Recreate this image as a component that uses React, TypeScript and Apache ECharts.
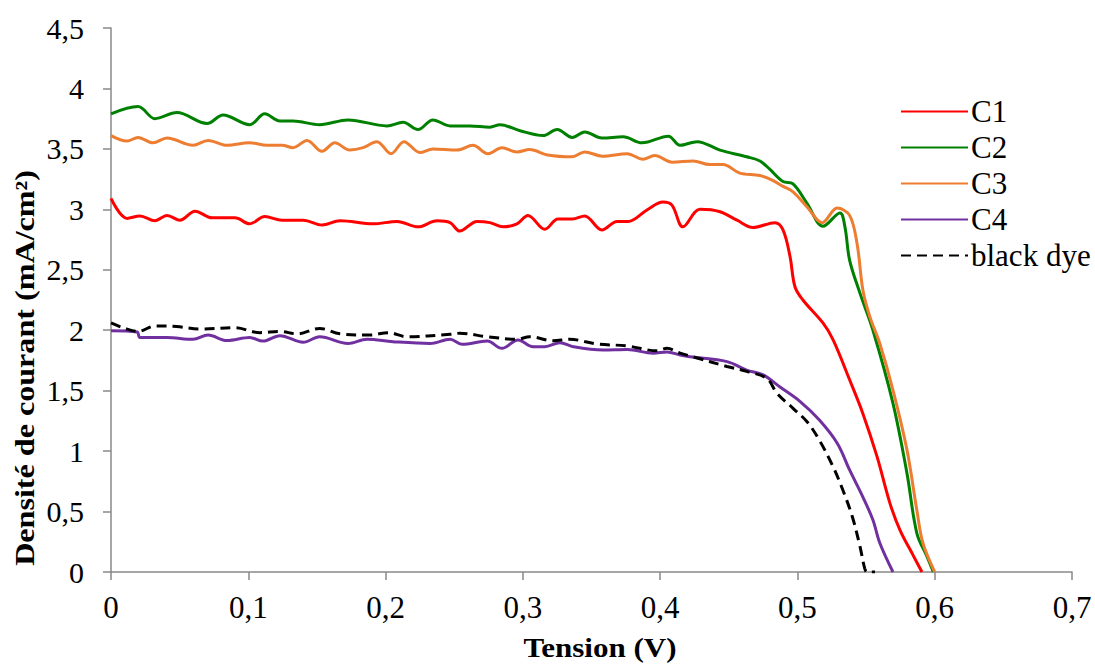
import React, { useEffect, useRef } from "react";
import * as echarts from "echarts";

// Tension (V), Densité de courant (mA/cm²)
const seriesNames = ["C1", "C2", "C3", "C4", "black dye"];
const seriesColors = ["#FF0000", "#008000", "#ED7D31", "#7030A0", "#000000"];

const c1: number[][] = [
  [0, 3.09], [0.0117, 2.925], [0.0211, 2.945], [0.032, 2.905], [0.0408, 2.95], [0.0503, 2.91],
  [0.0612, 2.985], [0.0736, 2.93], [0.0903, 2.93], [0.101, 2.88], [0.112, 2.94], [0.1246, 2.91],
  [0.14, 2.91], [0.1537, 2.87], [0.1668, 2.905], [0.191, 2.88], [0.2083, 2.9], [0.2236, 2.855],
  [0.2375, 2.905], [0.247, 2.89], [0.254, 2.82], [0.2666, 2.9], [0.276, 2.89], [0.2855, 2.855],
  [0.2957, 2.88], [0.3037, 2.95], [0.316, 2.835], [0.3256, 2.92], [0.336, 2.92], [0.345, 2.945],
  [0.3576, 2.83], [0.3686, 2.9], [0.3766, 2.9], [0.3904, 2.995], [0.402, 3.06], [0.4086, 3.035],
  [0.4166, 2.855], [0.429, 3.0], [0.4436, 2.98], [0.456, 2.91], [0.4676, 2.85], [0.4836, 2.89],
  [0.4895, 2.83], [0.4946, 2.61], [0.4982, 2.36], [0.504, 2.25], [0.5186, 2.06], [0.526, 1.92],
  [0.538, 1.59], [0.5477, 1.31], [0.558, 0.954], [0.5674, 0.568], [0.5747, 0.347], [0.5842, 0.14],
  [0.5907, 0],
];

const c2: number[][] = [
  [0, 3.79], [0.0197, 3.85], [0.032, 3.75], [0.048, 3.8], [0.07, 3.71], [0.0816, 3.78],
  [0.101, 3.7], [0.112, 3.79], [0.123, 3.73], [0.1326, 3.73], [0.152, 3.7], [0.1726, 3.74],
  [0.201, 3.69], [0.2127, 3.72], [0.2236, 3.66], [0.2345, 3.74], [0.247, 3.69], [0.2615, 3.69],
  [0.276, 3.68], [0.2833, 3.7], [0.298, 3.65], [0.3147, 3.61], [0.325, 3.66], [0.336, 3.595],
  [0.345, 3.64], [0.3576, 3.59], [0.373, 3.6], [0.3868, 3.55], [0.406, 3.605], [0.4145, 3.53],
  [0.427, 3.56], [0.4436, 3.49], [0.463, 3.435], [0.4727, 3.4], [0.48, 3.33], [0.4895, 3.23],
  [0.4968, 3.21], [0.507, 3.05], [0.5186, 2.86], [0.531, 2.97], [0.5346, 2.855], [0.538, 2.58],
  [0.5456, 2.305], [0.555, 2.0], [0.5696, 1.395], [0.5798, 0.816], [0.587, 0.32], [0.5944, 0.127],
  [0.599, 0],
];

const c3: number[][] = [
  [0, 3.61], [0.0117, 3.565], [0.0197, 3.595], [0.0306, 3.55], [0.0408, 3.59], [0.0597, 3.53],
  [0.0707, 3.57], [0.0845, 3.53], [0.101, 3.55], [0.1136, 3.53], [0.1246, 3.53], [0.1326, 3.51],
  [0.1428, 3.57], [0.1537, 3.48], [0.163, 3.55], [0.174, 3.49], [0.1836, 3.51], [0.1937, 3.56],
  [0.204, 3.46], [0.2134, 3.56], [0.225, 3.47], [0.2345, 3.5], [0.252, 3.49], [0.2637, 3.53],
  [0.2746, 3.46], [0.2848, 3.51], [0.2957, 3.475], [0.305, 3.495], [0.318, 3.45], [0.336, 3.435],
  [0.345, 3.475], [0.358, 3.44], [0.376, 3.46], [0.3875, 3.415], [0.396, 3.445], [0.409, 3.39],
  [0.424, 3.4], [0.436, 3.37], [0.4458, 3.37], [0.458, 3.3], [0.4727, 3.28], [0.482, 3.24],
  [0.4895, 3.19], [0.4968, 3.145], [0.507, 3.02], [0.518, 2.89], [0.529, 3.01], [0.538, 2.95],
  [0.5434, 2.72], [0.5477, 2.33], [0.5528, 2.11], [0.56, 1.89], [0.5696, 1.505], [0.5798, 1.01],
  [0.587, 0.51], [0.5914, 0.24], [0.6, 0],
];

const c4: number[][] = [
  [0, 1.996], [0.019, 1.985], [0.0211, 1.94], [0.0408, 1.94], [0.0597, 1.925], [0.0707, 1.96],
  [0.0845, 1.915], [0.101, 1.94], [0.1107, 1.91], [0.123, 1.955], [0.14, 1.9], [0.152, 1.946],
  [0.1726, 1.89], [0.1865, 1.925], [0.2054, 1.905], [0.2324, 1.89], [0.247, 1.925], [0.2557, 1.883],
  [0.274, 1.91], [0.2848, 1.85], [0.2965, 1.92], [0.3074, 1.864], [0.316, 1.864], [0.327, 1.897],
  [0.3365, 1.864], [0.3584, 1.836], [0.376, 1.84], [0.395, 1.81], [0.405, 1.82], [0.4145, 1.795],
  [0.4217, 1.78], [0.4487, 1.74], [0.463, 1.67], [0.475, 1.63], [0.4873, 1.53], [0.502, 1.41],
  [0.516, 1.257], [0.529, 1.065], [0.538, 0.844], [0.5477, 0.62], [0.555, 0.43], [0.56, 0.24],
  [0.5696, 0],
];

const blackDye: number[][] = [
  [0, 2.06], [0.0102, 2.015], [0.0197, 1.99], [0.032, 2.035], [0.048, 2.03], [0.0648, 2.01],
  [0.0903, 2.02], [0.1085, 1.98], [0.123, 1.99], [0.1355, 1.97], [0.152, 2.015], [0.1668, 1.97],
  [0.1887, 1.96], [0.2018, 1.98], [0.2156, 1.946], [0.247, 1.966], [0.254, 1.975], [0.274, 1.946],
  [0.2957, 1.925], [0.305, 1.946], [0.322, 1.913], [0.3343, 1.925], [0.354, 1.886], [0.376, 1.87],
  [0.3977, 1.83], [0.405, 1.85], [0.4145, 1.81], [0.424, 1.78], [0.4487, 1.7], [0.463, 1.66],
  [0.4778, 1.6], [0.485, 1.48], [0.4968, 1.354], [0.507, 1.243], [0.516, 1.09], [0.526, 0.87],
  [0.533, 0.68], [0.54, 0.457], [0.5456, 0.21], [0.549, 0.03], [0.5507, 0], [0.5565, 0],
];

const allData = [c1, c2, c3, c4, blackDye];

const xTitle = "Tension (V)";
const yTitle = "Densité de courant (mA/cm²)";

const FONT = "'Liberation Serif', 'Times New Roman', serif";

const fmt = (v: number) => String(Math.round(v * 10) / 10).replace(".", ",");

export default function App() {
  const ref = useRef<HTMLDivElement>(null);
  useEffect(() => {
    if (!ref.current) return;
    const chart = echarts.init(ref.current, null, { renderer: "svg" });
    chart.setOption({
      animation: false,
      backgroundColor: "#FFFFFF",
      textStyle: { fontFamily: FONT },
      grid: { left: 111, right: 23, top: 28, bottom: 92, containLabel: false },
      xAxis: {
        type: "value",
        min: 0,
        max: 0.7,
        interval: 0.1,
        splitLine: { show: false },
        axisLine: { show: true, lineStyle: { color: "#898989", width: 1.5 } },
        axisTick: { show: true, inside: false, length: 8, lineStyle: { color: "#898989", width: 1.5 } },
        axisLabel: { formatter: fmt, fontSize: 31, color: "#000", fontFamily: FONT, margin: 20 },
      },
      yAxis: {
        type: "value",
        min: 0,
        max: 4.5,
        interval: 0.5,
        splitLine: { show: false },
        axisLine: { show: true, lineStyle: { color: "#898989", width: 1.5 } },
        axisTick: { show: true, inside: false, length: 8, lineStyle: { color: "#898989", width: 1.5 } },
        axisLabel: { formatter: fmt, fontSize: 30, color: "#000", fontFamily: FONT, margin: 27 },
      },
      legend: {
        show: true,
        orient: "vertical",
        left: 895,
        top: 91,
        itemWidth: 67,
        itemHeight: 14,
        itemGap: 5,
        itemStyle: { opacity: 0 },
        textStyle: { fontSize: 31, color: "#000", fontFamily: FONT, padding: [0, 0, 0, -2] },
        data: seriesNames,
      },
      graphic: [
        {
          type: "text",
          x: 600,
          y: 648,
          scaleX: 1.15,
          style: {
            text: xTitle,
            font: `bold 27px ${FONT}`,
            fill: "#000",
            textAlign: "center",
            textVerticalAlign: "middle",
          },
        },
        {
          type: "text",
          x: 25,
          y: 368,
          rotation: Math.PI / 2,
          scaleX: 1.19,
          style: {
            text: yTitle,
            font: `bold 27px ${FONT}`,
            fill: "#000",
            textAlign: "center",
            textVerticalAlign: "middle",
          },
        },
      ],
      series: allData.map((d, i) => ({
        name: seriesNames[i],
        type: "line",
        data: d,
        smooth: 0.35,
        symbol: "none",
        color: seriesColors[i],
        lineStyle: {
          color: seriesColors[i],
          width: 3,
          type: i === 4 ? [10, 6] : "solid",
        },
        z: i === 4 ? 3 : 2,
      })),
    });
    return () => chart.dispose();
  }, []);
  return (
    <div
      ref={ref}
      style={{ position: "fixed", left: 0, top: 0, width: 1095, height: 664, background: "#fff" }}
    />
  );
}
